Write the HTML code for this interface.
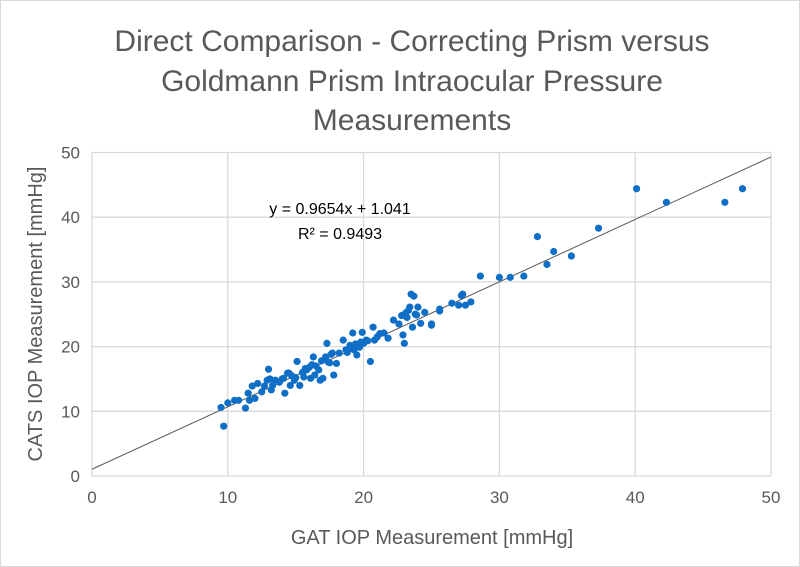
<!DOCTYPE html>
<html><head><meta charset="utf-8"><style>
body{margin:0;background:#fff;}
svg{display:block;font-family:"Liberation Sans",sans-serif;}
</style></head><body>
<svg id="chart" width="800" height="567">
<rect x="0.5" y="0.5" width="799" height="566" fill="#fff" stroke="#d9d9d9"/>
<g fill="#595959" font-size="30" text-anchor="middle">
<text x="412" y="51">Direct Comparison - Correcting Prism versus</text>
<text x="412" y="91">Goldmann Prism Intraocular Pressure</text>
<text x="412" y="130">Measurements</text>
</g>
<g id="grid"></g><g id="ticks"></g><g id="trend"></g><g id="points"></g>
<text x="432" y="544" font-size="20" fill="#595959" text-anchor="middle">GAT IOP Measurement [mmHg]</text>
<text transform="translate(42,314) rotate(-90)" font-size="20" fill="#595959" text-anchor="middle">CATS IOP Measurement [mmHg]</text>
<text x="340" y="214" font-size="16" fill="#000" text-anchor="middle">y = 0.9654x + 1.041</text>
<text x="340" y="239" font-size="16" fill="#000" text-anchor="middle">R² = 0.9493</text>
</svg>
<script>
const xTicks=[0,10,20,30,40,50];
const yTicks=[0,10,20,30,40,50];
const slope=0.9654, intercept=1.041;
const gat=[40.1,42.3,46.6,47.9,37.3,32.8,34.0,35.3,33.5,31.8,30.8,30.0,28.6,27.9,27.5,27.0,26.5,25.6,27.2,
9.7,9.5,10.0,10.5,10.8,11.3,11.5,11.6,12.0,11.8,12.2,12.7,13.0,13.1,13.2,13.5,14.1,14.4,14.2,14.6,14.9,15.1,15.3,15.6,15.8,16.1,16.3,16.4,16.7,16.8,17.0,17.2,17.3,17.4,17.7,17.8,18.0,18.5,18.8,19.0,19.2,19.5,19.7,19.9,20.2,20.5,20.7,20.8,21.5,21.8,22.2,23.0,22.9,23.3,23.4,23.6,24.0,24.2,25.0,25.6,
23.5,23.7,24.5,27.3,25.0,12.5,13.8,14.0,15.0,15.5,16.0,16.5,17.5,18.2,19.3,20.0,21.0,23.2,23.8,13.3,14.7,16.2,18.7,19.8,22.6,
12.9,14.5,15.7,16.9,17.6,18.9,19.4,20.3,21.2,22.8,23.1,23.9];
const cats=[44.4,42.3,42.3,44.4,38.3,37.0,34.7,34.0,32.7,30.9,30.7,30.7,30.9,26.9,26.4,26.4,26.7,25.8,27.9,
7.7,10.6,11.3,11.7,11.7,10.5,12.8,11.7,12.0,13.9,14.3,13.9,16.5,15.0,13.3,14.8,15.1,15.9,12.8,14.0,14.8,17.7,14.0,15.3,16.4,15.1,18.4,15.6,16.4,14.8,15.1,18.4,20.5,17.6,19.0,15.6,17.4,21.0,19.1,20.2,22.1,18.7,19.9,22.2,21.0,17.7,23.0,21.0,22.1,21.3,24.1,20.5,21.8,25.6,26.1,23.0,26.1,23.6,23.3,25.5,
28.1,27.8,25.3,28.1,23.5,13.0,14.5,15.0,15.2,16.0,16.8,17.0,17.5,19.0,19.5,20.5,21.5,24.5,25.0,14.0,15.5,17.2,19.5,20.7,23.5,
14.8,15.9,16.6,17.8,18.8,19.6,20.4,20.9,22.0,24.8,25.2,24.9];
const X0=92,X1=771,Y0=476,Y1=152.5;
function sx(v){return X0+(v-0)/(50-0)*(X1-X0);}
function sy(v){return Y0-(v-0)/(50-0)*(Y0-Y1);}
const NS="http://www.w3.org/2000/svg";
function mk(tag,attrs,parent){const e=document.createElementNS(NS,tag);for(const k in attrs)e.setAttribute(k,attrs[k]);document.getElementById(parent).appendChild(e);return e;}
xTicks.forEach(t=>{
 const l=mk('line',{x1:sx(t),x2:sx(t),y1:Y1,y2:Y0,stroke:'#d9d9d9','stroke-width':1.3},'grid');
 
 
 const tx=mk('text',{x:sx(t),y:Y0+27,'font-size':17,fill:'#595959','text-anchor':'middle'},'ticks');
 tx.textContent=t;
 
 
});
yTicks.forEach(t=>{
 const l=mk('line',{x1:X0,x2:X1,y1:sy(t),y2:sy(t),stroke:'#d9d9d9','stroke-width':1.3},'grid');
 
 
 const tx=mk('text',{x:X0-12,y:sy(t)+6,'font-size':17,fill:'#595959','text-anchor':'end'},'ticks');
 tx.textContent=t;
 
 
});
const tl=mk('line',{x1:sx(0),y1:sy(intercept),x2:sx(50),y2:sy(slope*50+intercept),stroke:'#595959','stroke-width':1},'trend');


gat.forEach((g,i)=>{
 const c=mk('circle',{cx:sx(g),cy:sy(cats[i]),r:3.6,fill:'#0f6fc6'},'points');
 
 
});
</script>
</body></html>
